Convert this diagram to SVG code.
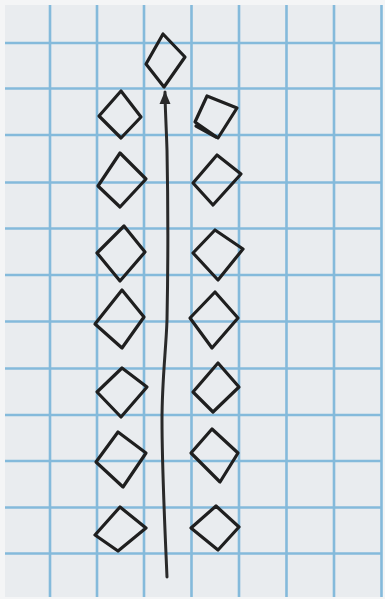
<svg xmlns="http://www.w3.org/2000/svg" width="385" height="599" viewBox="0 0 385 599">
<style>
.grid line{stroke:#84badb;stroke-width:2.6}
.d{fill:none;stroke:#1f1f1f;stroke-width:3.2;stroke-linejoin:round;stroke-linecap:round}
.c{fill:none;stroke:#2a2a2a;stroke-width:3;stroke-linecap:round}
</style>
<defs>
<marker id="ah" viewBox="0 0 12 10" refX="11" refY="5" markerWidth="4.5" markerHeight="4" orient="auto" markerUnits="strokeWidth">
<path d="M0,0 L12,5 L0,10 Z" fill="#2a2a2a"/>
</marker>
</defs>
<rect width="385" height="599" fill="#f4f5f6"/>
<rect x="5" y="5" width="377" height="592" fill="#e9ecef"/>
<g class="grid">
<line x1="50" y1="5" x2="50" y2="597"/>
<line x1="97" y1="5" x2="97" y2="597"/>
<line x1="144" y1="5" x2="144" y2="597"/>
<line x1="191.5" y1="5" x2="191.5" y2="597"/>
<line x1="239" y1="5" x2="239" y2="597"/>
<line x1="286.5" y1="5" x2="286.5" y2="597"/>
<line x1="334" y1="5" x2="334" y2="597"/>
<line x1="381.5" y1="5" x2="381.5" y2="597"/>
<line x1="5" y1="43" x2="382" y2="43"/>
<line x1="5" y1="88.5" x2="382" y2="88.5"/>
<line x1="5" y1="135" x2="382" y2="135"/>
<line x1="5" y1="182.5" x2="382" y2="182.5"/>
<line x1="5" y1="228.5" x2="382" y2="228.5"/>
<line x1="5" y1="275" x2="382" y2="275"/>
<line x1="5" y1="321.5" x2="382" y2="321.5"/>
<line x1="5" y1="368.5" x2="382" y2="368.5"/>
<line x1="5" y1="415" x2="382" y2="415"/>
<line x1="5" y1="461" x2="382" y2="461"/>
<line x1="5" y1="507.5" x2="382" y2="507.5"/>
<line x1="5" y1="553.5" x2="382" y2="553.5"/>
</g>
<g id="connectors">
<path class="c" marker-end="url(#ah)" d="M167,577 C165,530 162,470 162,420 C162,380 166,350 167,320 C168,270 168,200 167,150 C166,120 165,105 165,92"/>
</g>
<g id="top"><polygon class="d" points="163,34 185,57 164,87 146,64"/></g>
<g id="l1"><polygon class="d" points="121,91 141,117 121,138 99,116"/></g>
<g id="r1"><polygon class="d" points="207,96 237,108 218,138 195,122"/><path class="d" d="M196,126 L216,137" stroke-width="2"/></g>
<g id="l2"><polygon class="d" points="120,153 146,179 120,207 98,186"/></g>
<g id="r2"><polygon class="d" points="217,155 241,174 213,205 193,183"/></g>
<g id="l3"><polygon class="d" points="124,226 145,252 120,281 97,253"/></g>
<g id="r3"><polygon class="d" points="215,230 243,249 218,280 193,253"/></g>
<g id="l4"><polygon class="d" points="122,290 144,317 122,348 95,324"/></g>
<g id="r4"><polygon class="d" points="215,292 238,318 212,348 190,318"/></g>
<g id="l5"><polygon class="d" points="122,368 147,387 121,417 97,392"/></g>
<g id="r5"><polygon class="d" points="218,363 239,387 213,412 193,392"/></g>
<g id="l6"><polygon class="d" points="118,432 146,453 123,487 96,462"/></g>
<g id="r6"><polygon class="d" points="212,429 238,453 220,482 191,453"/></g>
<g id="l7"><polygon class="d" points="120,507 146,528 118,551 95,535"/></g>
<g id="r7"><polygon class="d" points="216,506 239,527 218,550 191,528"/></g>
</svg>
